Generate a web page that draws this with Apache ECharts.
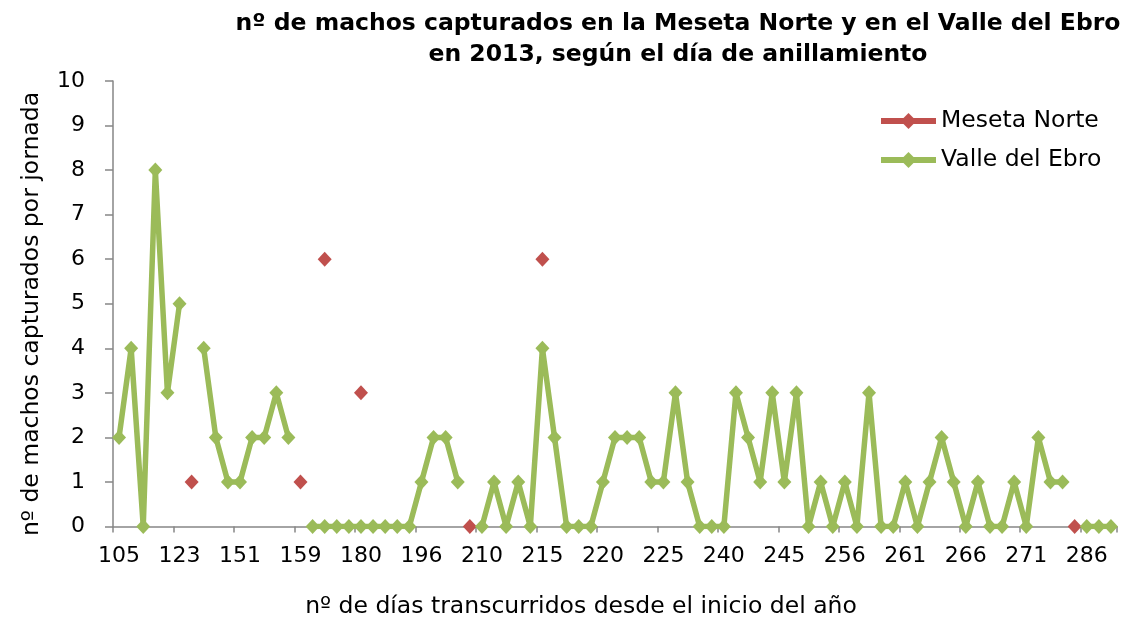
<!DOCTYPE html>
<html>
<head>
<meta charset="utf-8">
<script src="https://cdn.jsdelivr.net/npm/echarts@6/dist/echarts.min.js"></script>
<style>
html,body{margin:0;padding:0;background:#fff;}
#chart{width:1126px;height:626px;}
</style>
</head>
<body>
<div id="chart"></div>
<script>
// Tick labels shown on the category axis (every 5th category)
const tickLabels = ['105','123','151','159','180','196','210','215','220','225','240','245','256','261','266','271','286'];
const categoryCount = 83;
// Series values, one per category (null = no capture day for that zone)
const mesetaNorte = [
  null,null,null,null,null,null,1,null,null,null,
  null,null,null,null,null,1,null,6,null,null,
  3,null,null,null,null,null,null,null,null,0,
  null,null,null,null,null,6,null,null,null,null,
  null,null,null,null,null,null,null,null,null,null,
  null,null,null,null,null,null,null,null,null,null,
  null,null,null,null,null,null,null,null,null,null,
  null,null,null,null,null,null,null,null,null,0,
  null,null,null
];
const valleEbro = [
  2,4,0,8,3,5,null,4,2,1,
  1,2,2,3,2,null,0,0,0,0,
  0,0,0,0,0,1,2,2,1,null,
  0,1,0,1,0,4,2,0,0,0,
  1,2,2,2,1,1,3,1,0,0,
  0,3,2,1,3,1,3,0,1,0,
  1,0,3,0,0,1,0,1,2,1,
  0,1,0,0,1,0,2,1,1,null,
  0,0,0
];
const seriesNames = ['Meseta Norte', 'Valle del Ebro'];

const categories = Array.from({length: categoryCount}, (_, i) =>
  i % 5 === 0 ? tickLabels[i / 5] : '#' + i);

const FONT = 'DejaVu Sans';
const chart = echarts.init(document.getElementById('chart'), null, {renderer: 'canvas'});
chart.setOption({
  backgroundColor: '#ffffff',
  animation: false,
  textStyle: {fontFamily: FONT},
  grid: {left: 113, right: 9, top: 81, bottom: 99.5, containLabel: false},
  graphic: [
    {type: 'text', x: 678, y: 24, style: {text: 'nº de machos capturados en la Meseta Norte y en el Valle del Ebro', fontFamily: FONT, fontWeight: 'bold', fontSize: 23.5, fill: '#000', align: 'center', verticalAlign: 'middle'}},
    {type: 'text', x: 678, y: 55, style: {text: 'en 2013, según el día de anillamiento', fontFamily: FONT, fontWeight: 'bold', fontSize: 23.5, fill: '#000', align: 'center', verticalAlign: 'middle'}},
    {type: 'text', x: 581, y: 607, style: {text: 'nº de días transcurridos desde el inicio del año', fontFamily: FONT, fontSize: 23.5, fill: '#000', align: 'center', verticalAlign: 'middle'}},
    {type: 'text', x: 32, y: 314, rotation: Math.PI / 2, style: {text: 'nº de machos capturados por jornada', fontFamily: FONT, fontSize: 23.5, fill: '#000', align: 'center', verticalAlign: 'middle'}}
  ],
  legend: {
    orient: 'vertical',
    left: 873,
    top: 102,
    itemWidth: 55,
    itemHeight: 20,
    itemGap: 11,
    data: seriesNames,
    lineStyle: {width: 6},
    textStyle: {fontFamily: FONT, fontSize: 23.5, color: '#000', lineHeight: 28}
  },
  xAxis: {
    type: 'category',
    data: categories,
    boundaryGap: true,
    axisLine: {lineStyle: {color: '#868686', width: 1.5}},
    axisTick: {show: true, interval: 4, length: 6, lineStyle: {color: '#868686', width: 1.5}},
    axisLabel: {interval: 4, color: '#000', fontSize: 22, fontFamily: FONT, margin: 19},
    splitLine: {show: false}
  },
  yAxis: {
    type: 'value',
    min: 0, max: 10, interval: 1,
    axisLine: {show: true, lineStyle: {color: '#868686', width: 1.5}},
    axisTick: {show: true, inside: false, length: 8, lineStyle: {color: '#868686', width: 1.5}},
    axisLabel: {color: '#000', fontSize: 22, fontFamily: FONT, margin: 28},
    splitLine: {show: false}
  },
  series: [
    {
      name: seriesNames[0], type: 'line', data: mesetaNorte,
      symbol: 'diamond', symbolSize: [14, 15], showAllSymbol: true,
      connectNulls: false,
      itemStyle: {color: '#C0504D'},
      lineStyle: {color: '#C0504D', width: 5.5}
    },
    {
      name: seriesNames[1], type: 'line', data: valleEbro,
      symbol: 'diamond', symbolSize: [14, 15], showAllSymbol: true,
      connectNulls: false,
      itemStyle: {color: '#9BBB59'},
      lineStyle: {color: '#9BBB59', width: 5.5}
    }
  ]
});
</script>
</body>
</html>
